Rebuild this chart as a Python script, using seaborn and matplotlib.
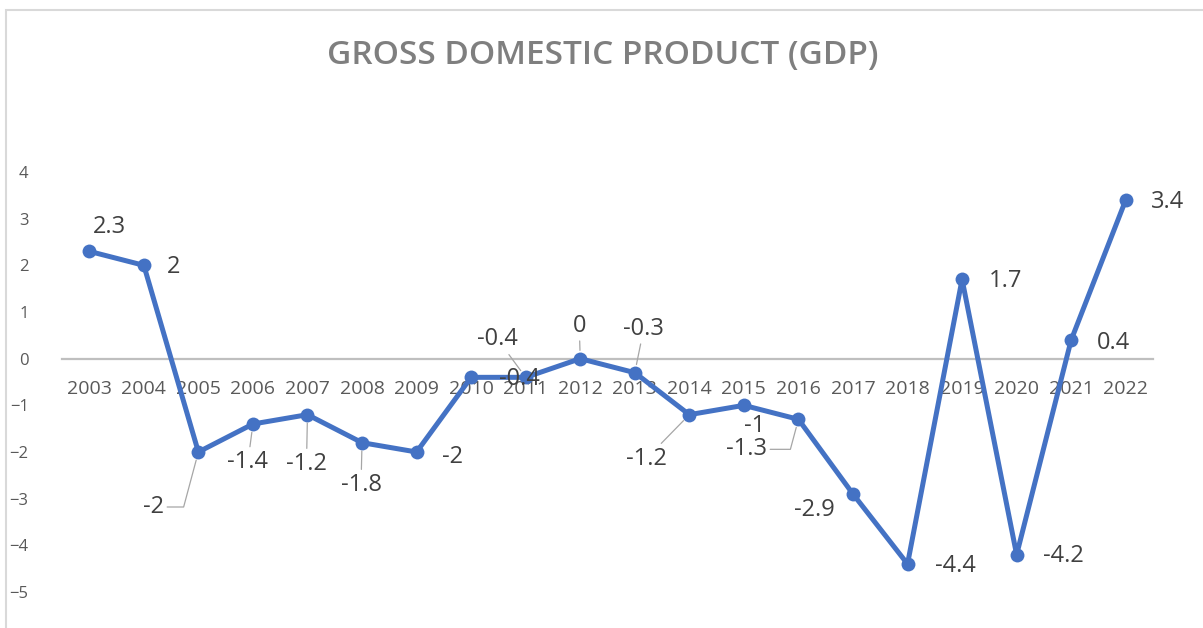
import seaborn as sns
import matplotlib.pyplot as plt
import pandas as pd
from matplotlib.patches import Rectangle

sns.set_style("white")
plt.rcParams['font.family'] = ['Open Sans', 'DejaVu Sans']

# data
years = [str(y) for y in range(2003, 2023)]
gdp = [2.3, 2.0, -2.0, -1.4, -1.2, -1.8, -2.0, -0.4, -0.4, 0.0,
       -0.3, -1.2, -1.0, -1.3, -2.9, -4.4, 1.7, -4.2, 0.4, 3.4]
y_ticks = [-5, -4, -3, -2, -1, 0, 1, 2, 3, 4]

# label offsets in pixels (dx, dy) and leader line style (None = no leader)
label_offsets = [(20, 24), (30, -2), (-45, -55), (-5, -38), (-1, -49),
                 (-1, -42), (36, -5), (48, -2), (-28, 38), (-1, 33),
                 (9, 44), (-43, -44), (11, -21), (-52, -30), (-39, -16),
                 (48, -2), (43, -2), (47, -1), (42, -3), (42, -2)]
straight = "arc3"
elbow = "angle,angleA=0,angleB=75,rad=0"
leaders = [None, None, elbow, straight, straight, straight, None, None,
           straight, straight, straight, straight, None, elbow, None,
           None, None, None, None, None]

df = pd.DataFrame({"year": years, "gdp": gdp})

fig = plt.figure(figsize=(12.03, 6.28), dpi=100)
ax = fig.add_axes([62 / 1203, 1 - 592 / 628, (1153 - 62) / 1203, (592 - 172) / 628])

sns.lineplot(data=df, x="year", y="gdp", ax=ax, color="#4472C4", lw=3.6,
             marker="o", markersize=10, markeredgewidth=0, sort=False)

ax.set_xlim(-0.5, len(years) - 0.5)
ax.set_ylim(-5, 4)
ax.set_yticks(y_ticks)
ax.set_xlabel("")
ax.set_ylabel("")

for s in ["top", "right", "left"]:
    ax.spines[s].set_visible(False)
ax.spines["bottom"].set_position(("data", 0))
ax.spines["bottom"].set_color("#bfbfbf")
ax.spines["bottom"].set_linewidth(1.6)
ax.spines["bottom"].set_zorder(0)

ax.tick_params(axis="x", length=0, pad=15, labelsize=14, labelcolor="#595959")
ax.tick_params(axis="y", length=0, pad=24, labelsize=12, labelcolor="#595959")

for i, (v, (dx, dy), lead) in enumerate(zip(gdp, label_offsets, leaders)):
    arrow = None
    if lead:
        arrow = dict(arrowstyle="-", color="#a6a6a6", lw=0.9,
                     shrinkA=0, shrinkB=6, connectionstyle=lead)
    ax.annotate(f"{v:g}", xy=(i, v), xytext=(dx, dy), textcoords="offset pixels",
                ha="center", va="center", fontsize=17, color="#404040",
                arrowprops=arrow, zorder=5)

fig.text(603 / 1203, 1 - 55 / 628, "GROSS DOMESTIC PRODUCT (GDP)",
         ha="center", va="center", fontsize=24, fontweight="semibold",
         color="#7f7f7f")

# chart frame
fig.patches.append(Rectangle((6 / 1203, -0.1), 1.2, 1 - 10 / 628 + 0.1,
                             transform=fig.transFigure, fill=False,
                             edgecolor="#d9d9d9", lw=1.5))

fig.savefig("out.png", dpi=100)
plt.close()
